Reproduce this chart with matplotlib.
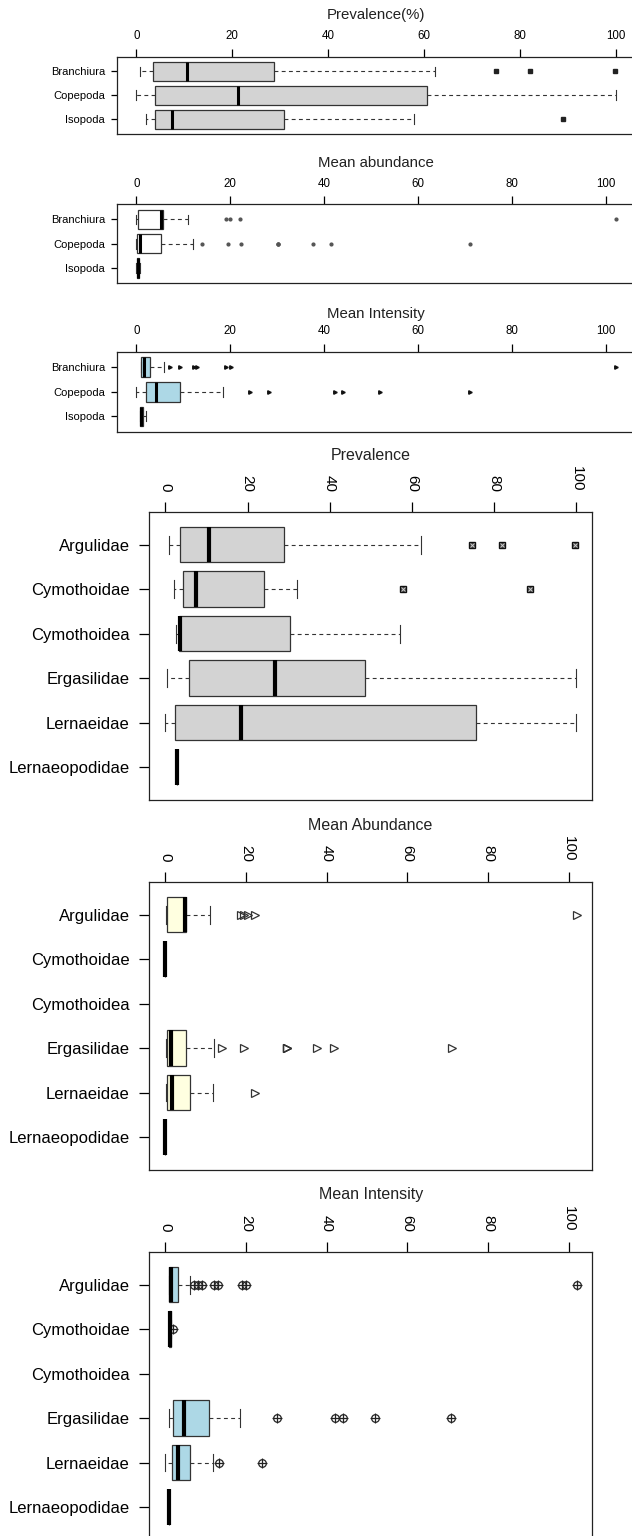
import numpy as np
import matplotlib
matplotlib.use('Agg')
import matplotlib.pyplot as plt

plt.rcParams['font.family'] = ['Liberation Sans', 'DejaVu Sans']

W, H = 632, 1536

# ---- upper block: orders ----
orders = ['Branchiura', 'Copepoda', 'Isopoda']

prev_ord_lo = [0.8, 0.0, 2.1]
prev_ord_q1 = [3.4, 3.8, 3.8]
prev_ord_med = [10.5, 21.2, 7.4]
prev_ord_q3 = [28.8, 60.7, 30.9]
prev_ord_hi = [62.2, 100.0, 57.9]
prev_ord_out = [[75.1, 82.0, 99.9], [], [88.9]]

abun_ord_lo = [0.0, 0.0, 0.0]
abun_ord_q1 = [0.4, 0.2, 0.1]
abun_ord_med = [5.3, 0.9, 0.4]
abun_ord_q3 = [5.6, 5.2, 0.6]
abun_ord_hi = [11.1, 12.0, 0.7]
abun_ord_out = [[19.2, 19.9, 22.0, 102.1],
                [14.0, 19.6, 22.2, 30.2, 30.2, 30.2, 37.6, 41.5, 71.1], []]

int_ord_lo = [1.0, 0.0, 0.9]
int_ord_q1 = [1.0, 2.1, 0.9]
int_ord_med = [1.6, 4.1, 1.1]
int_ord_q3 = [3.0, 9.3, 1.5]
int_ord_hi = [6.0, 18.5, 2.1]
int_ord_out = [[7.1, 9.3, 12.2, 13.0, 19.1, 20.2, 102.1],
               [24.2, 28.2, 42.4, 44.1, 52.0, 71.1], []]

# ---- lower block: families ----
families = ['Argulidae', 'Cymothoidae', 'Cymothoidea', 'Ergasilidae',
            'Lernaeidae', 'Lernaeopodidae']

prev_fam_lo = [0.8, 2.1, 2.7, 0.5, 0.0, 2.9]
prev_fam_q1 = [3.5, 4.2, 3.4, 5.7, 2.3, 2.9]
prev_fam_med = [10.6, 7.5, 3.5, 26.8, 18.3, 2.9]
prev_fam_q3 = [28.9, 24.0, 30.3, 48.5, 75.5, 2.9]
prev_fam_hi = [62.1, 32.0, 57.1, 99.9, 100.0, 2.9]
prev_fam_out = [[74.6, 81.8, 99.7], [57.8, 88.6], [], [], [], []]

# None = no data for that family
abun_fam_lo = [0.2, 0.0, None, 0.2, 0.1, 0.0]
abun_fam_q1 = [0.5, 0.0, None, 0.4, 0.3, 0.0]
abun_fam_med = [5.0, 0.0, None, 1.3, 1.6, 0.0]
abun_fam_q3 = [5.2, 0.0, None, 5.2, 6.1, 0.0]
abun_fam_hi = [11.0, 0.0, None, 12.0, 11.8, 0.0]
abun_fam_out = [[18.7, 19.5, 20.5, 22.2, 102.0], [], [],
                [14.0, 19.5, 30.2, 30.2, 30.2, 37.5, 41.8, 71.0], [22.2], []]

int_fam_lo = [1.0, 1.0, None, 1.0, 0.0, 1.0]
int_fam_q1 = [1.0, 1.0, None, 2.0, 1.6, 1.0]
int_fam_med = [1.5, 1.2, None, 4.7, 3.1, 1.0]
int_fam_q3 = [3.1, 1.3, None, 10.8, 6.0, 1.0]
int_fam_hi = [6.0, 1.3, None, 18.4, 11.8, 1.0]
int_fam_out = [[7.0, 8.0, 9.0, 12.0, 13.0, 19.0, 20.0, 102.0], [2.0], [],
               [27.8, 42.0, 44.0, 52.0, 70.8], [13.3, 24.0], []]

ticks = [0, 20, 40, 60, 80, 100]

fig = plt.figure(figsize=(W / 100, H / 100), dpi=100)


def make_stats(lo, q1, med, q3, hi, out):
    st = []
    for a, b, c, d, e, f in zip(lo, q1, med, q3, hi, out):
        if a is None:
            st.append(None)
        else:
            st.append(dict(whislo=a, q1=b, med=c, q3=d, whishi=e, fliers=f))
    return st


def panel(top, bottom, left, right, xlim, names, st, title, title_y, face,
          flier, small, overlay=None):
    ax = fig.add_axes([left / W, 1 - bottom / H, (right - left) / W, (bottom - top) / H])
    n = len(names)
    pos = np.arange(1, n + 1)
    keep = [i for i in range(n) if st[i] is not None]
    kw = dict(positions=pos[keep], widths=0.8, capwidths=0.4, patch_artist=True,
              manage_ticks=False,
              boxprops=dict(facecolor=face, edgecolor='#333333', linewidth=0.9),
              medianprops=dict(color='black', linewidth=2.2 if small else 3.0,
                               solid_capstyle='butt'),
              whiskerprops=dict(color='#333333', linewidth=0.8, linestyle=(0, (3.5, 3))),
              capprops=dict(color='#333333', linewidth=0.8),
              flierprops=flier)
    try:
        parts = ax.bxp([st[i] for i in keep], orientation='horizontal', **kw)
    except TypeError:
        parts = ax.bxp([st[i] for i in keep], vert=False, **kw)
    if overlay is not None:
        # second glyph drawn on top of each outlier
        for ln in parts['fliers']:
            ax.plot(ln.get_xdata(), ln.get_ydata(), **overlay)
    ax.set_xlim(*xlim)
    ax.set_ylim(n + 0.5 + 0.04 * n, 0.5 - 0.04 * n)
    ax.xaxis.tick_top()
    ax.set_xticks(ticks)
    ax.set_yticks(pos)
    ax.set_yticklabels(names)
    for s in ax.spines.values():
        s.set_linewidth(0.9)
        s.set_color('#222222')
    if small:
        ax.tick_params(axis='x', length=5.5, width=0.9, pad=5, labelsize=8.3)
        ax.tick_params(axis='y', length=4.5, width=0.9, pad=4, labelsize=8)
        fs = 10.8
    else:
        ax.tick_params(axis='x', length=7.5, width=0.9, pad=7, labelsize=11,
                       labelrotation=-90)
        ax.tick_params(axis='y', length=7.5, width=0.9, pad=6.5, labelsize=12)
        fs = 11.5
    fig.text((left + right) / 2 / W, 1 - title_y / H, title, ha='center',
             va='center', fontsize=fs, color='#222222')
    return ax


sq_small = dict(marker='s', markersize=3, markerfacecolor='#222222',
                markeredgecolor='#222222', linestyle='none')
dot_small = dict(marker='o', markersize=2, markerfacecolor='#555555',
                 markeredgecolor='#555555', linestyle='none')
tri_small = dict(marker='>', markersize=2.5, markerfacecolor='#111111',
                 markeredgecolor='#111111', linestyle='none')
sq_big = dict(marker='s', markersize=5, markerfacecolor='#444444',
              markeredgecolor='#111111', linestyle='none')
x_over = dict(marker='x', markersize=2.6, color='#cccccc', markeredgewidth=0.7,
              linestyle='none')
tri_big = dict(marker='>', markersize=5.5, markerfacecolor='none',
               markeredgecolor='#333333', markeredgewidth=0.9, linestyle='none')
circ_big = dict(marker='o', markersize=5.5, markerfacecolor='none',
                markeredgecolor='#222222', markeredgewidth=0.9, linestyle='none')
plus_over = dict(marker='+', markersize=7, color='#222222', markeredgewidth=0.9,
                 linestyle='none')

panel(56.5, 134, 117, 635, (-4.03, 104.0), orders,
      make_stats(prev_ord_lo, prev_ord_q1, prev_ord_med, prev_ord_q3, prev_ord_hi, prev_ord_out),
      'Prevalence(%)', 15, '#D3D3D3', sq_small, True)
panel(204.3, 283, 117, 635, (-4.1, 106.2), orders,
      make_stats(abun_ord_lo, abun_ord_q1, abun_ord_med, abun_ord_q3, abun_ord_hi, abun_ord_out),
      'Mean abundance', 163, 'white', dot_small, True)
panel(351.7, 431.7, 117, 635, (-4.1, 106.2), orders,
      make_stats(int_ord_lo, int_ord_q1, int_ord_med, int_ord_q3, int_ord_hi, int_ord_out),
      'Mean Intensity', 314, '#ADD8E6', tri_small, True)

panel(511.7, 800, 149.3, 592, (-3.9, 103.8), families,
      make_stats(prev_fam_lo, prev_fam_q1, prev_fam_med, prev_fam_q3, prev_fam_hi, prev_fam_out),
      'Prevalence', 455, '#D3D3D3', sq_big, False, x_over)
panel(881.7, 1170, 149.3, 592, (-3.97, 105.8), families,
      make_stats(abun_fam_lo, abun_fam_q1, abun_fam_med, abun_fam_q3, abun_fam_hi, abun_fam_out),
      'Mean Abundance', 825, '#FFFFE0', tri_big, False)
panel(1251.7, 1540, 149.3, 592, (-3.97, 105.8), families,
      make_stats(int_fam_lo, int_fam_q1, int_fam_med, int_fam_q3, int_fam_hi, int_fam_out),
      'Mean Intensity', 1195, '#ADD8E6', circ_big, False, plus_over)

fig.savefig('out.png', dpi=100)
